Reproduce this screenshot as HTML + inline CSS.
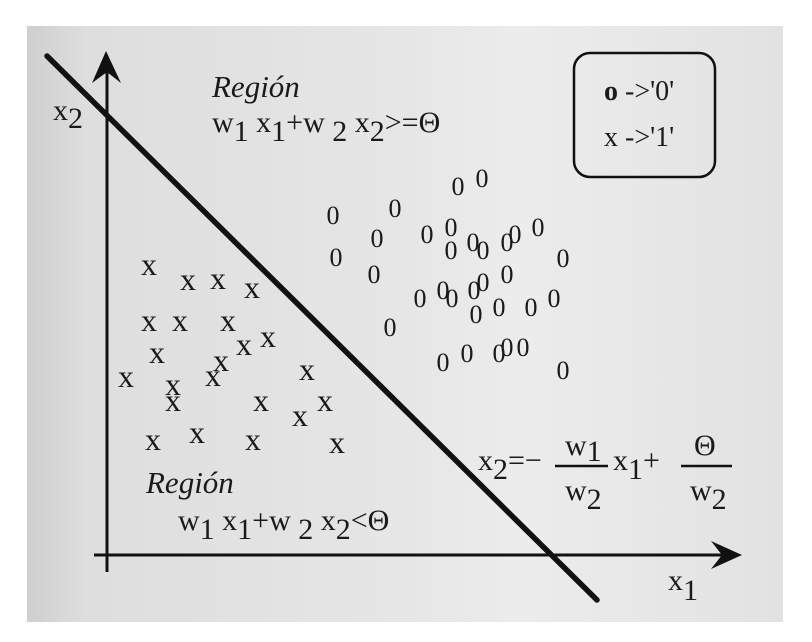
<!DOCTYPE html>
<html><head><meta charset="utf-8"><style>
html,body{margin:0;padding:0;background:#fff;}
svg{display:block;}
svg text{font-family:"Liberation Serif","DejaVu Serif",serif;fill:#1a1a1a;}
</style></head><body>
<svg id="chart" width="812" height="642" viewBox="0 0 812 642" xmlns="http://www.w3.org/2000/svg" font-family="Liberation Serif, DejaVu Serif, serif">
<defs>
<linearGradient id="paper" x1="0" y1="0" x2="1" y2="0">
<stop offset="0" stop-color="#cfcfcf"/>
<stop offset="0.08" stop-color="#dedede"/>
<stop offset="0.5" stop-color="#e6e6e6"/>
<stop offset="0.65" stop-color="#ececec"/>
<stop offset="1" stop-color="#e2e2e2"/>
</linearGradient>
</defs>
<rect x="27" y="26" width="756" height="596" fill="url(#paper)"/>
<g id="axes" stroke="#111" fill="#111">
<line x1="107" y1="572" x2="107" y2="70" stroke-width="3"/>
<path d="M106,51 L121,83 L107,72 L92,83 Z" stroke="none"/>
<line x1="94" y1="555" x2="730" y2="555" stroke-width="3"/>
<path d="M742,555 L711,541 L722,555 L711,569 Z" stroke="none"/>
<line x1="47" y1="56" x2="597" y2="600" stroke-width="5.5" stroke-linecap="round"/>
</g>
<text x="53" y="120" font-size="30">x<tspan dy="8">2</tspan></text>
<text x="668" y="590" font-size="30">x<tspan dy="10">1</tspan></text>
<text x="212" y="97" font-size="31" font-style="italic">Región</text>
<text x="212" y="132" font-size="30">w<tspan dy="9">1</tspan><tspan dy="-9"> x</tspan><tspan dy="9">1</tspan><tspan dy="-9">+w</tspan><tspan dy="9"> 2</tspan><tspan dy="-9"> x</tspan><tspan dy="9">2</tspan><tspan dy="-9">&gt;=Θ</tspan></text>
<text x="146" y="493" font-size="31" font-style="italic">Región</text>
<text x="178" y="530" font-size="30">w<tspan dy="9">1</tspan><tspan dy="-9"> x</tspan><tspan dy="9">1</tspan><tspan dy="-9">+w</tspan><tspan dy="9"> 2</tspan><tspan dy="-9"> x</tspan><tspan dy="9">2</tspan><tspan dy="-9">&lt;Θ</tspan></text>
<g>
<text x="478" y="470" font-size="30">x<tspan dy="9">2</tspan></text>
<text x="508" y="470" font-size="30">=−</text>
<line x1="555" y1="466" x2="608" y2="466" stroke="#111" stroke-width="2.5"/>
<text x="565" y="455" font-size="30">w<tspan dy="6">1</tspan></text>
<text x="565" y="500" font-size="30">w<tspan dy="9">2</tspan></text>
<text x="613" y="470" font-size="30">x<tspan dy="9">1</tspan><tspan dy="-9">+</tspan></text>
<line x1="681" y1="466" x2="732" y2="466" stroke="#111" stroke-width="2.5"/>
<text x="694" y="455" font-size="30">Θ</text>
<text x="690" y="500" font-size="30">w<tspan dy="9">2</tspan></text>
</g>
<g>
<rect x="574" y="53" width="141" height="124" rx="16" fill="none" stroke="#111" stroke-width="2.5"/>
<text x="604" y="100" font-size="28"><tspan font-weight="bold">o</tspan>  -&gt;'0'</text>
<text x="604" y="146" font-size="28">x  -&gt;'1'</text>
</g>
<g id="marks"></g>
</svg>
<script>
var class0X1 = [35.1,37.5,22.6,28.8,27.0,32.0,34.4,36.6,37.6,40.0,40.8,43.1,34.4,22.9,45.6,26.7,40.0,31.3,33.6,34.5,36.7,37.6,36.9,39.2,42.4,44.7,28.3,33.6,36.0,39.2,40.0,41.6,45.6];
var class0X2 = [36.9,37.7,34.0,34.7,31.7,32.1,32.8,31.3,30.5,31.3,32.1,32.8,30.5,29.8,29.7,28.1,28.1,25.7,26.5,25.7,26.5,27.3,24.1,24.8,24.8,25.7,22.8,19.3,20.2,20.2,20.8,20.8,18.5];
var class1X1 = [4.2,8.1,11.1,14.5,4.2,7.3,12.1,13.7,16.1,5.0,11.4,10.6,1.9,6.6,6.6,20.0,15.4,21.8,19.3,4.6,9.0,14.6,23.0];
var class1X2 = [28.8,27.3,27.4,26.5,23.2,23.2,23.2,20.8,21.6,20.0,19.2,17.7,17.6,16.8,15.2,18.3,15.2,15.2,13.7,11.3,12.0,11.3,11.0];
function sx(v){ return 107 + v*10; }
function sy(v){ return 555 - v*10; }
(function(){
  var g = document.getElementById('marks');
  var NS = 'http://www.w3.org/2000/svg';
  for (var i=0;i<class0X1.length;i++){
    var t = document.createElementNS(NS,'text');
    t.setAttribute('x', sx(class0X1[i]));
    t.setAttribute('y', sy(class0X2[i]) + 9);
    t.setAttribute('text-anchor','middle');
    t.setAttribute('font-size','26');
    t.textContent = '0';
    
    
    g.appendChild(t);
  }
  for (var j=0;j<class1X1.length;j++){
    var u = document.createElementNS(NS,'text');
    u.setAttribute('x', sx(class1X1[j]));
    u.setAttribute('y', sy(class1X2[j]) + 8);
    u.setAttribute('text-anchor','middle');
    u.setAttribute('font-size','32');
    u.textContent = 'x';
    
    
    g.appendChild(u);
  }
})();
</script>
</body></html>
